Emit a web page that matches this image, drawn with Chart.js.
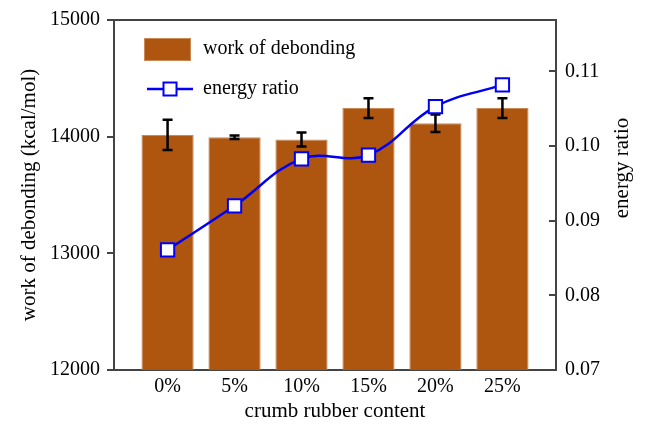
<!DOCTYPE html>
<html>
<head>
<meta charset="utf-8">
<script src="https://cdn.jsdelivr.net/npm/chart.js@4.4.1/dist/chart.umd.min.js"></script>
<style>
  body { margin: 0; background: #fff; }
  #wrap { width: 645px; height: 424px; }
</style>
</head>
<body>
<div id="wrap"><canvas id="chart" width="645" height="424"></canvas></div>
<script>
// values
const contents = ['0%', '5%', '10%', '15%', '20%', '25%'];
const workOfDebonding = [14015, 13995, 13975, 14245, 14115, 14245];
const workError = [130, 15, 60, 85, 75, 85];
const energyRatio = [0.0861, 0.0920, 0.0983, 0.0988, 0.1053, 0.1082];
const leftTicks = [12000, 13000, 14000, 15000];
const rightTicks = [0.07, 0.08, 0.09, 0.10, 0.11];

const serif = "'Liberation Serif', 'Times New Roman', serif";
const barColor = '#AE5510';
const lineColor = '#0000F5';
const axisColor = '#444';

// bars and line sit on a linear x axis so the side padding can match the figure
const barPoints = workOfDebonding.map((v, i) => ({ x: i, y: v }));
const linePoints = energyRatio.map((v, i) => ({ x: i, y: v }));

function fixBox(w) {
  return function (scale) {
    scale.width = w;
    scale.paddingTop = 0;
    scale.paddingBottom = 0;
  };
}

const extras = {
  id: 'extras',
  afterDatasetDraw(chart, args) {
    if (args.index !== 0) return;
    const { ctx, scales: { y } } = chart;
    const meta = chart.getDatasetMeta(0);
    ctx.save();
    ctx.strokeStyle = '#000';
    ctx.lineWidth = 2.5;
    meta.data.forEach((bar, i) => {
      const top = y.getPixelForValue(workOfDebonding[i] + workError[i]);
      const bot = y.getPixelForValue(workOfDebonding[i] - workError[i]);
      ctx.beginPath();
      ctx.moveTo(bar.x, top); ctx.lineTo(bar.x, bot);
      ctx.moveTo(bar.x - 5, top); ctx.lineTo(bar.x + 5, top);
      ctx.moveTo(bar.x - 5, bot); ctx.lineTo(bar.x + 5, bot);
      ctx.stroke();
    });
    ctx.restore();
  },
  afterDraw(chart) {
    const { ctx, chartArea: a } = chart;
    ctx.save();
    // top frame
    ctx.strokeStyle = axisColor;
    ctx.lineWidth = 2;
    ctx.beginPath();
    ctx.moveTo(a.left - 7, a.top);
    ctx.lineTo(a.right + 1, a.top);
    ctx.stroke();

    // legend
    const lx = a.left + 30;
    ctx.fillStyle = barColor;
    ctx.fillRect(lx, a.top + 18, 47, 23);
    ctx.strokeStyle = '#C98A55';
    ctx.lineWidth = 1;
    ctx.strokeRect(lx + 0.5, a.top + 18.5, 46, 22);
    ctx.strokeStyle = lineColor;
    ctx.lineWidth = 2.5;
    ctx.beginPath();
    ctx.moveTo(lx + 3, a.top + 69);
    ctx.lineTo(lx + 49, a.top + 69);
    ctx.stroke();
    ctx.fillStyle = '#fff';
    ctx.lineWidth = 2;
    ctx.fillRect(lx + 19.5, a.top + 62.5, 13, 13);
    ctx.strokeRect(lx + 19.5, a.top + 62.5, 13, 13);
    ctx.fillStyle = '#000';
    ctx.font = '20px ' + serif;
    ctx.textBaseline = 'middle';
    ctx.fillText('work of debonding', lx + 59, a.top + 29);
    ctx.fillText('energy ratio', lx + 59, a.top + 69);

    // right axis title, reading bottom to top like the left one
    ctx.font = '21px ' + serif;
    ctx.textAlign = 'center';
    ctx.translate(622, 168);
    ctx.rotate(-Math.PI / 2);
    ctx.fillText('energy ratio', 0, 0);
    ctx.restore();
  }
};

new Chart(document.getElementById('chart'), {
  data: {
    datasets: [{
      type: 'bar',
      label: 'work of debonding',
      data: barPoints,
      backgroundColor: barColor,
      borderColor: '#C98A55',
      borderWidth: 1,
      barPercentage: 0.78,
      categoryPercentage: 1,
      yAxisID: 'y',
      order: 1
    }, {
      type: 'line',
      label: 'energy ratio',
      data: linePoints,
      borderColor: lineColor,
      borderWidth: 2.5,
      tension: 0.4,
      pointStyle: 'rect',
      pointRadius: 9.4,
      pointBackgroundColor: '#fff',
      pointBorderColor: lineColor,
      pointBorderWidth: 2,
      yAxisID: 'y1',
      order: 0
    }]
  },
  options: {
    responsive: false,
    animation: false,
    devicePixelRatio: 1,
    layout: { padding: { top: 20, left: 0, right: 0, bottom: 0 } },
    plugins: { legend: { display: false }, tooltip: { enabled: false } },
    scales: {
      x: {
        type: 'linear',
        offset: false,
        min: -0.8,
        max: 5.8,
        afterBuildTicks(scale) { scale.ticks = contents.map((c, i) => ({ value: i })); },
        afterFit(scale) { scale.height = 54; scale.paddingLeft = 0; scale.paddingRight = 0; },
        grid: { display: false, drawTicks: false, offset: false },
        border: { display: true, color: axisColor, width: 2 },
        ticks: {
          color: '#000',
          padding: 5,
          font: { family: serif, size: 20 },
          callback: (v) => contents[v]
        },
        title: {
          display: true,
          text: 'crumb rubber content',
          color: '#000',
          padding: { top: 0, bottom: 0 },
          font: { family: serif, size: 21 }
        }
      },
      y: {
        position: 'left',
        min: 12000,
        max: 15000,
        afterBuildTicks(scale) { scale.ticks = leftTicks.map(v => ({ value: v })); },
        afterFit: fixBox(114),
        grid: { drawOnChartArea: false, tickLength: 7, color: axisColor, lineWidth: 2 },
        border: { color: axisColor, width: 2 },
        ticks: {
          color: '#000',
          padding: 7,
          font: { family: serif, size: 20 },
          callback: (v) => String(v)
        },
        title: {
          display: true,
          text: 'work of debonding (kcal/mol)',
          color: '#000',
          padding: { top: 17, bottom: 0 },
          font: { family: serif, size: 21 }
        }
      },
      y1: {
        position: 'right',
        min: 0.07,
        max: 0.1169,
        afterBuildTicks(scale) { scale.ticks = rightTicks.map(v => ({ value: v })); },
        afterFit: fixBox(89),
        grid: { drawOnChartArea: false, tickLength: -7, color: axisColor, lineWidth: 2 },
        border: { color: axisColor, width: 2 },
        ticks: {
          color: '#000',
          padding: 16,
          font: { family: serif, size: 20 },
          callback: (v) => v.toFixed(2)
        }
      }
    }
  },
  plugins: [extras]
});
</script>
</body>
</html>
